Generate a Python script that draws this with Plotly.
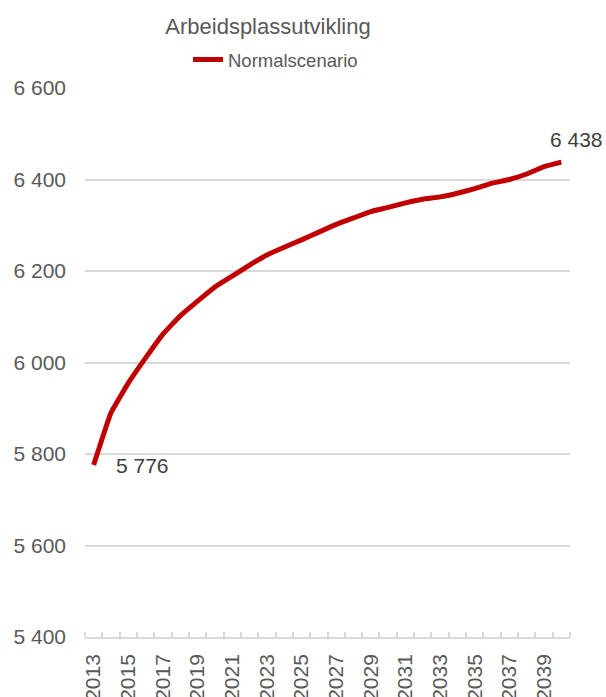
import plotly.graph_objects as go

years = list(range(2013, 2041))
values = [5776, 5890, 5955, 6010, 6062, 6102, 6134, 6165, 6189, 6213,
          6235, 6252, 6268, 6285, 6302, 6316, 6330, 6339, 6349, 6357,
          6362, 6370, 6380, 6392, 6400, 6412, 6428, 6438]
series_name = "Normalscenario"
title_text = "Arbeidsplassutvikling"
y_ticks = [5400, 5600, 5800, 6000, 6200, 6400, 6600]
x_tick_years = [y for y in years if y % 2 == 1]

FONT = "Liberation Sans, Arial, sans-serif"
GREY = "#595959"
GRID = "#d9d9d9"
RED = "#c00000"

W, H = 606, 697
L, R, T, B = 85, 36, 88, 60
PW, PH = W - L - R, H - T - B


def fmt(v):
    return f"{v:,}".replace(",", " ")


fig = go.Figure()
fig.add_trace(go.Scatter(
    x=years, y=values, mode="lines", name=series_name,
    line=dict(color=RED, width=5, shape="spline", smoothing=0.3),
))

fig.add_annotation(x=years[0], y=values[0], text=fmt(values[0]),
                   showarrow=False, xanchor="left", yanchor="middle",
                   xshift=20, yshift=-1, font=dict(family=FONT, size=21, color="#404040"))
fig.add_annotation(x=years[-1], y=values[-1], text=fmt(values[-1]),
                   showarrow=False, xanchor="center", yanchor="middle",
                   xshift=15, yshift=23, font=dict(family=FONT, size=21, color="#404040"))

fig.update_layout(
    width=W, height=H,
    margin=dict(l=L, r=R, t=T, b=B, autoexpand=False),
    paper_bgcolor="white", plot_bgcolor="white",
    font=dict(family=FONT, color=GREY),
    title=dict(text=title_text, x=268 / W, xanchor="center", y=1 - 26 / H, yanchor="middle",
               font=dict(family=FONT, size=22, color=GREY)),
    showlegend=True,
    legend=dict(orientation="h", x=(188 - L) / PW, xanchor="left",
                y=1 + (T - 60) / PH, yanchor="middle",
                font=dict(family=FONT, size=18.5, color=GREY), itemwidth=30,
                bgcolor="rgba(0,0,0,0)"),
    xaxis=dict(
        range=[2012.5, 2040.5], tickmode="array", tickvals=x_tick_years,
        ticktext=[str(y) for y in x_tick_years], tickangle=-90, ticks="",
        tickfont=dict(family=FONT, size=21, color=GREY), ticklabelstandoff=7,
        showgrid=False, zeroline=False, automargin=False,
        showline=True, linecolor=GRID, linewidth=1.5,
        minor=dict(tick0=2012.5, dtick=1, ticks="inside", ticklen=5, tickcolor=GRID,
                   tickwidth=1.5, showgrid=False),
    ),
    yaxis=dict(
        range=[5400, 6600], tickmode="array", tickvals=y_ticks,
        ticktext=[fmt(v) for v in y_ticks],
        tickfont=dict(family=FONT, size=21, color=GREY), automargin=False,
        showgrid=True, gridcolor=GRID, gridwidth=1.5, zeroline=False,
        showline=False, ticks="", ticklabelstandoff=18,
    ),
)

fig.write_html("out.html", config={"displayModeBar": False},
               post_script="document.body.style.margin='0';document.body.style.overflow='hidden';")
